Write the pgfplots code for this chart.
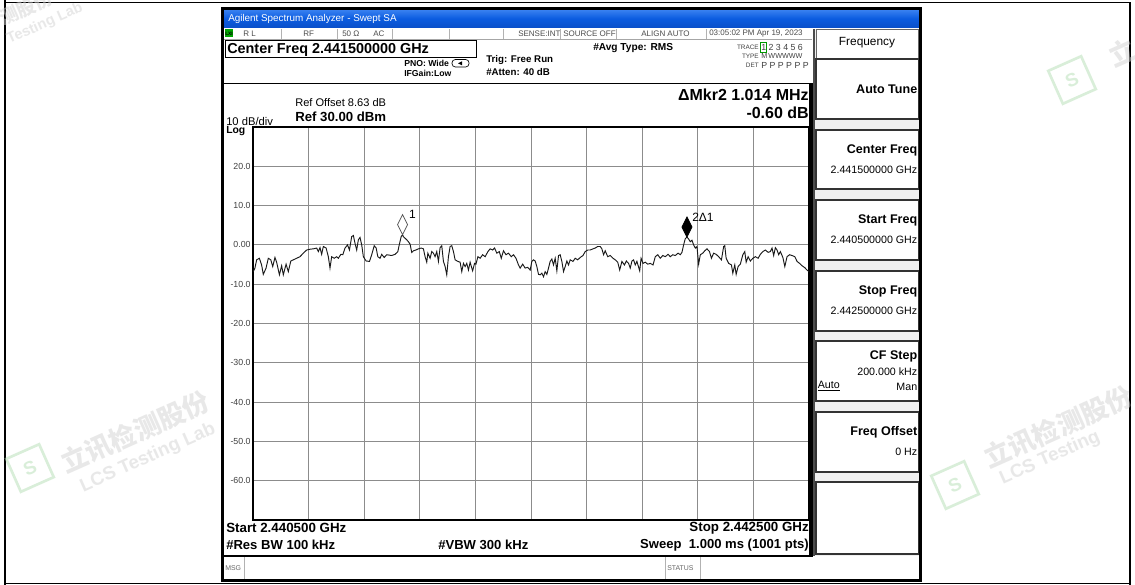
\documentclass[border=0pt]{standalone}
\usepackage{pgfplots}
\pgfplotsset{compat=1.18}
\usepackage{fontspec}
\setmainfont{Liberation Sans}
\newfontfamily\cjk{Noto Sans CJK SC}
\newcommand\fs[1]{\fontsize{#1}{#1}\selectfont}
\definecolor{gridc}{HTML}{8C8C8C}
\definecolor{tbtop}{HTML}{3D84F2}
\definecolor{tbmid}{HTML}{0B5CE0}
\definecolor{tbbot}{HTML}{0A4FC8}
\definecolor{wm}{HTML}{D2D2D2}
\definecolor{wmg}{HTML}{B4DEB4}
\pgfdeclareplotmark{mkrdiamond}{%
  \pgfpathmoveto{\pgfqpoint{0pt}{0pt}}%
  \pgfpathlineto{\pgfqpoint{3.75pt}{7.5pt}}%
  \pgfpathlineto{\pgfqpoint{0pt}{15pt}}%
  \pgfpathlineto{\pgfqpoint{-3.75pt}{7.5pt}}%
  \pgfpathclose
  \pgfusepathqfillstroke}
\begin{document}
\begin{tikzpicture}
\useasboundingbox (0,0) rectangle (851.25pt,-438.75pt);
\begin{scope}[x=0.75pt,y=-0.75pt]
% page frame
\fill[white] (0,0) rectangle (1135,585);
\draw[line width=1.1pt] (5,2.5) -- (1130,2.5);
\draw[line width=0.8pt] (5,0) -- (5,585);
\draw[line width=0.8pt] (1130,2.5) -- (1130,585);
\draw[line width=0.8pt] (5,583.5) -- (1130,583.5);
% window
\fill[white] (222,8) rectangle (921,581);
\shade[top color=tbtop, bottom color=tbbot, middle color=tbmid] (223,9) rectangle (920,28);
\node[anchor=west, text=white, font=\fs{7.4pt}, inner sep=0pt] at (228,18.5) {Agilent Spectrum Analyzer - Swept SA};
% status row
\draw[black!35, line width=0.5pt] (223,39) -- (812,39);
\fill[green!65!black] (225,29.5) rectangle (233,37.5);
\node[font=\fs{3.6pt}\bfseries, inner sep=0pt] at (229,33.5) {LXI};
\begin{scope}[font=\fs{6pt}, text=black!70, inner sep=0pt]
\node[anchor=west] at (243,33.5) {R L};
\node[anchor=west] at (303,33.5) {RF};
\node[anchor=west] at (342,33.5) {50 Ω};
\node[anchor=west] at (373,33.5) {AC};
\node[anchor=west] at (518,33.5) {SENSE:INT};
\node[anchor=west] at (563,33.5) {SOURCE OFF};
\node[anchor=west] at (641,33.5) {ALIGN AUTO};
\node[anchor=west] at (709,33.5) {03:05:02 PM Apr 19, 2023};
\end{scope}
\foreach \sx in {281,337,392,449,503,560,616,706}
  \draw[black!30, line width=0.6pt] (\sx,29) -- (\sx,39);
% header
\draw[line width=0.75pt] (225,41) rectangle (476,58);
\node[anchor=west, font=\fs{10.8pt}\bfseries, inner sep=0pt] at (227,49.5) {Center Freq 2.441500000 GHz};
\node[anchor=west, font=\fs{6.5pt}\bfseries, inner sep=0pt] at (404,63.5) {PNO: Wide};
\node[anchor=west, font=\fs{6.5pt}\bfseries, inner sep=0pt] at (404,73.5) {IFGain:Low};
\draw[line width=0.5pt, rounded corners=2.5pt] (452,59.5) rectangle (469,67);
\fill (458,63.3) -- (462,61.3) -- (462,65.3) -- cycle;
\node[anchor=west, font=\fs{7.3pt}\bfseries, inner sep=0pt] at (486,60.5) {Trig: Free Run};
\node[anchor=west, font=\fs{7.3pt}\bfseries, inner sep=0pt] at (486,72.5) {\#Atten: 40 dB};
\node[anchor=west, font=\fs{7.6pt}\bfseries, inner sep=0pt] at (593,48) {\#Avg Type: RMS};
\begin{scope}[inner sep=0pt, text=black!75]
\node[anchor=east, font=\fs{4.8pt}] at (759,47) {TRACE};
\node[anchor=east, font=\fs{4.8pt}] at (759,56.5) {TYPE};
\node[anchor=east, font=\fs{4.8pt}] at (759,65.5) {DET};
\node[anchor=west, font=\fs{6.6pt}] at (761,47.5) {1 2 3 4 5 6};
\node[anchor=west, font=\fs{5.4pt}] at (761,56.5) {M\,WWWWW};
\node[anchor=west, font=\fs{6.6pt}] at (761,65.5) {P P P P P P};
\end{scope}
\draw[green!60!black, line width=0.5pt] (760,42.5) rectangle (766.5,52);
% main display frame
\draw[line width=1.1pt] (222,83.5) -- (812,83.5);
\draw[line width=1.1pt] (222,556) -- (812,556);
\draw[line width=2.4pt] (811,83) -- (811,557);
\node[anchor=east, font=\fs{12pt}\bfseries, inner sep=0pt] at (809,95) {ΔMkr2 1.014 MHz};
\node[anchor=east, font=\fs{12pt}\bfseries, inner sep=0pt] at (809,113) {-0.60 dB};
\node[anchor=west, font=\fs{8.3pt}, inner sep=0pt] at (295,103) {Ref Offset 8.63 dB};
\node[anchor=west, font=\fs{9.9pt}\bfseries, inner sep=0pt] at (295,116.5) {Ref 30.00 dBm};
\node[anchor=west, font=\fs{8.4pt}, inner sep=0pt] at (226,121.5) {10 dB/div};
\node[anchor=west, font=\fs{7.8pt}\bfseries, inner sep=0pt] at (226,131) {Log};
\node[anchor=west, font=\fs{10pt}\bfseries, inner sep=0pt] at (226,528) {Start 2.440500 GHz};
\node[anchor=east, font=\fs{10pt}\bfseries, inner sep=0pt] at (809,528) {Stop 2.442500 GHz};
\node[anchor=west, font=\fs{9.8pt}\bfseries, inner sep=0pt] at (226,545) {\#Res BW 100 kHz};
\node[anchor=west, font=\fs{9.8pt}\bfseries, inner sep=0pt] at (438,545) {\#VBW 300 kHz};
\node[anchor=east, font=\fs{9.8pt}\bfseries, inner sep=0pt] at (809,545) {Sweep\ \ 1.000 ms (1001 pts)};
% msg bar
\draw[black!30, line width=0.6pt] (244,557) -- (244,579);
\draw[black!30, line width=0.6pt] (665,557) -- (665,579);
\draw[black!30, line width=0.6pt] (700,557) -- (700,579);
\node[anchor=west, font=\fs{5.2pt}, text=black!60, inner sep=0pt] at (225,568) {MSG};
\node[anchor=west, font=\fs{5.2pt}, text=black!60, inner sep=0pt] at (667,568) {STATUS};
% right panel
\fill[black!6] (814,29) rectangle (919.5,556);
\draw[black!70, line width=0.9pt] (814,29) -- (814,556);
\draw[black!60, line width=0.7pt, fill=white] (816,29.5) rectangle (918.5,58);
\foreach \ya/\yb in {59/119,130/189,200/260,271/331,341/401,412/472,482/554}
  \draw[black!80, line width=0.8pt, fill=white] (816,\ya) rectangle (918.5,\yb);
\node[font=\fs{8.9pt}, inner sep=0pt] at (867,43) {Frequency};
\begin{scope}[inner sep=0pt]
\node[anchor=east, font=\fs{9.4pt}\bfseries] at (917.5,89) {Auto Tune};
\node[anchor=east, font=\fs{9.4pt}\bfseries] at (917.5,150) {Center Freq};
\node[anchor=east, font=\fs{8pt}] at (917.5,169.5) {2.441500000 GHz};
\node[anchor=east, font=\fs{9.4pt}\bfseries] at (917.5,220) {Start Freq};
\node[anchor=east, font=\fs{8pt}] at (917.5,240) {2.440500000 GHz};
\node[anchor=east, font=\fs{9.4pt}\bfseries] at (917.5,291) {Stop Freq};
\node[anchor=east, font=\fs{8pt}] at (917.5,310.5) {2.442500000 GHz};
\node[anchor=east, font=\fs{9.4pt}\bfseries] at (917.5,356) {CF Step};
\node[anchor=east, font=\fs{8pt}] at (917.5,371.5) {200.000 kHz};
\node[anchor=west, font=\fs{8pt}] at (817.5,386.5) {\underline{Auto}};
\node[anchor=east, font=\fs{8pt}] at (917.5,386.5) {Man};
\node[anchor=east, font=\fs{9.4pt}\bfseries] at (917.5,432) {Freq Offset};
\node[anchor=east, font=\fs{8pt}] at (917.5,452) {0 Hz};
\end{scope}
% window border
\draw[line width=1.6pt] (222.5,8.5) rectangle (920.5,580.5);
\coordinate (plotNW) at (253,127);
\end{scope}
\begin{axis}[
  at={(plotNW)}, anchor=north west,
  scale only axis, width=417pt, height=294.75pt,
  xmin=2440.5, xmax=2442.5, ymin=-70, ymax=30,
  xtick={2440.7,2440.9,2441.1,2441.3,2441.5,2441.7,2441.9,2442.1,2442.3},
  xticklabels={},
  ytick={-60,-50,-40,-30,-20,-10,0,10,20},
  yticklabels={-60.0,-50.0,-40.0,-30.0,-20.0,-10.0,0.00,10.0,20.0},
  yticklabel style={font=\fs{6.6pt}, text=black!75, inner sep=1.6pt},
  major tick length=0pt,
  grid=major,
  major grid style={draw=gridc, line width=0.75pt},
  axis line style={line width=1.6pt, black},
  clip=false,
]
\addplot[black!90, line width=0.7pt, mark=none] coordinates {
(2440.501,-6.8) (2440.507,-5.9) (2440.513,-3.8) (2440.523,-3.4) (2440.531,-5.1)
(2440.537,-7.5) (2440.547,-5.9) (2440.555,-3.4) (2440.564,-3.8) (2440.571,-5.5)
(2440.579,-3.2) (2440.585,-4.4) (2440.595,-7.6) (2440.603,-5.3) (2440.609,-7.6)
(2440.619,-4.9) (2440.627,-6.8) (2440.636,-4.1) (2440.645,-3.8) (2440.657,-3.4)
(2440.669,-3.0) (2440.681,-2.1) (2440.693,-1.3) (2440.705,-1.1) (2440.717,-1.0)
(2440.729,-0.8) (2440.735,-1.7) (2440.741,-0.7) (2440.747,-2.4) (2440.753,-0.4)
(2440.763,-0.8) (2440.771,-3.0) (2440.777,-5.9) (2440.783,-3.0) (2440.792,-3.4)
(2440.801,-3.0) (2440.807,-3.4) (2440.816,-2.4) (2440.823,-2.5) (2440.831,-0.8)
(2440.840,0.0) (2440.847,-1.3) (2440.855,2.1) (2440.861,2.4) (2440.867,0.4)
(2440.873,-1.3) (2440.879,1.3) (2440.885,1.9) (2440.891,0.0) (2440.897,-3.0)
(2440.907,-4.1) (2440.919,-4.2) (2440.927,-2.5) (2440.936,-0.2) (2440.943,-0.8)
(2440.949,-3.0) (2440.957,-3.4) (2440.963,-2.4) (2440.972,-3.2) (2440.981,-2.5)
(2440.999,-2.7) (2441.011,-2.4) (2441.021,-1.7) (2441.026,0.0) (2441.033,2.1)
(2441.038,2.6) (2441.041,2.1) (2441.047,1.7) (2441.053,1.3) (2441.059,0.8)
(2441.065,0.2) (2441.071,-1.9) (2441.077,-1.5) (2441.086,-1.3) (2441.095,-1.0)
(2441.105,-0.8) (2441.113,-1.0) (2441.119,-3.0) (2441.125,-4.4) (2441.129,-2.1)
(2441.137,-3.4) (2441.143,-1.7) (2441.149,-2.1) (2441.155,-3.0) (2441.161,-1.7)
(2441.167,-4.2) (2441.173,-0.7) (2441.179,-0.2) (2441.185,-4.2) (2441.191,-5.5)
(2441.197,-7.6) (2441.203,-3.0) (2441.209,-0.4) (2441.215,-0.2) (2441.221,-1.7)
(2441.227,-3.8) (2441.237,-4.2) (2441.245,-4.4) (2441.251,-6.8) (2441.257,-4.7)
(2441.263,-5.5) (2441.269,-4.7) (2441.275,-6.4) (2441.281,-4.4) (2441.290,-6.6)
(2441.297,-4.7) (2441.302,-4.9) (2441.309,-3.0) (2441.317,-3.4) (2441.326,-2.5)
(2441.335,-3.0) (2441.345,-1.7) (2441.353,-1.0) (2441.362,-1.3) (2441.369,-0.8)
(2441.377,-2.1) (2441.386,-1.7) (2441.393,-3.4) (2441.401,-1.5) (2441.410,-2.5)
(2441.419,-2.1) (2441.429,-3.0) (2441.437,-2.5) (2441.446,-3.4) (2441.455,-5.1)
(2441.461,-5.9) (2441.470,-4.9) (2441.479,-5.9) (2441.488,-5.7) (2441.497,-6.4)
(2441.503,-4.2) (2441.509,-3.8) (2441.515,-4.1) (2441.521,-5.5) (2441.527,-7.5)
(2441.533,-7.6) (2441.539,-7.2) (2441.545,-8.1) (2441.551,-6.8) (2441.557,-7.5)
(2441.563,-5.9) (2441.569,-4.2) (2441.575,-3.6) (2441.581,-5.1) (2441.587,-3.4)
(2441.593,-6.6) (2441.599,-2.7) (2441.605,-2.5) (2441.611,-4.2) (2441.617,-6.8)
(2441.623,-5.5) (2441.629,-4.1) (2441.635,-5.1) (2441.641,-3.8) (2441.651,-4.2)
(2441.659,-3.4) (2441.668,-3.8) (2441.677,-3.2) (2441.687,-2.7) (2441.695,-1.7)
(2441.704,-1.3) (2441.713,-1.3) (2441.723,-1.0) (2441.731,-0.8) (2441.740,-0.4)
(2441.749,-0.4) (2441.755,-1.0) (2441.761,-2.5) (2441.767,-1.5) (2441.776,-3.0)
(2441.785,-2.7) (2441.795,-3.4) (2441.803,-3.8) (2441.812,-4.4) (2441.819,-6.4)
(2441.827,-4.2) (2441.836,-5.1) (2441.843,-4.1) (2441.851,-4.7) (2441.857,-5.9)
(2441.863,-4.1) (2441.869,-3.8) (2441.875,-5.1) (2441.881,-4.2) (2441.891,-6.6)
(2441.896,-3.4) (2441.903,-4.7) (2441.911,-4.4) (2441.920,-4.9) (2441.929,-4.7)
(2441.939,-5.1) (2441.947,-3.0) (2441.956,-2.5) (2441.965,-3.4) (2441.974,-2.7)
(2441.983,-3.0) (2441.993,-2.4) (2442.001,-3.0) (2442.010,-2.5) (2442.019,-2.7)
(2442.029,-2.1) (2442.037,-2.5) (2442.043,-1.9) (2442.049,0.0) (2442.055,1.6)
(2442.061,2.0) (2442.067,1.5) (2442.073,0.8) (2442.079,1.2) (2442.085,0.0)
(2442.091,-0.8) (2442.097,-0.4) (2442.103,-4.9) (2442.109,-2.5) (2442.118,-2.1)
(2442.125,-1.5) (2442.133,-1.0) (2442.142,-1.7) (2442.149,-3.4) (2442.157,-2.1)
(2442.166,-2.4) (2442.175,-3.0) (2442.185,-3.8) (2442.193,-0.4) (2442.197,-0.2)
(2442.202,-3.4) (2442.211,-4.7) (2442.221,-5.1) (2442.226,-7.2) (2442.233,-5.1)
(2442.238,-7.5) (2442.245,-5.5) (2442.253,-4.9) (2442.262,-2.5) (2442.269,-1.7)
(2442.274,-4.4) (2442.281,-3.0) (2442.289,-4.1) (2442.298,-3.4) (2442.307,-3.0)
(2442.317,-3.4) (2442.325,-2.4) (2442.334,-1.7) (2442.343,-1.3) (2442.353,-1.9)
(2442.361,-1.7) (2442.367,-0.8) (2442.373,-2.7) (2442.379,-0.7) (2442.385,-1.3)
(2442.391,-2.5) (2442.397,-1.7) (2442.406,-3.2) (2442.413,-5.5) (2442.421,-3.0)
(2442.430,-2.5) (2442.439,-2.7) (2442.449,-3.0) (2442.457,-4.2) (2442.466,-4.7)
(2442.475,-5.3) (2442.485,-5.8) (2442.493,-6.4) (2442.500,-6.8)
};
\addplot[only marks, mark=mkrdiamond, mark options={fill=white, draw=black!65, line width=0.6pt}] coordinates {(2441.038,2.6)};
\addplot[only marks, mark=mkrdiamond, mark options={fill=black, draw=black, line width=0.6pt}] coordinates {(2442.061,2.0)};
\node[anchor=west, font=\fs{9pt}, inner sep=0pt] at (axis cs:2441.038,2.6) [xshift=4.8pt, yshift=15pt] {1};
\node[anchor=west, font=\fs{9pt}, inner sep=0pt] at (axis cs:2442.061,2.0) [xshift=3.8pt, yshift=15pt] {2Δ1};
\end{axis}
% watermarks
\begin{scope}[x=0.75pt,y=-0.75pt]
\clip (0,0) rectangle (1135,585);
\begin{scope}[opacity=0.5]
\node[rotate=24, text=wm, font=\cjk\fs{20pt}\bfseries] at (135,432) {立讯检测股份};
\node[rotate=24, text=wm, font=\fs{14pt}\bfseries] at (148,458) {LCS Testing Lab};
\draw[wmg, line width=2pt, rotate around={24:(30,468)}] (12,450) rectangle (48,486);
\node[rotate=24, text=wmg, font=\fs{14pt}\bfseries] at (30,468) {S};
\node[rotate=24, text=wm, font=\cjk\fs{20pt}\bfseries] at (1058,427) {立讯检测股份};
\node[rotate=24, text=wm, font=\fs{14pt}\bfseries] at (1050,458) {LCS Testing};
\draw[wmg, line width=2pt, rotate around={24:(955,485)}] (937,467) rectangle (973,503);
\node[rotate=24, text=wmg, font=\fs{14pt}\bfseries] at (955,485) {S};
\draw[wmg, line width=2pt, rotate around={24:(1072,80)}] (1054,62) rectangle (1090,98);
\node[rotate=24, text=wmg, font=\fs{14pt}\bfseries] at (1072,80) {S};
\node[rotate=24, text=wm, font=\cjk\fs{20pt}\bfseries] at (1122,52) {立};
\node[rotate=24, text=wm, font=\cjk\fs{14pt}\bfseries] at (26,8) {测股份};
\node[rotate=24, text=wm, font=\fs{11pt}\bfseries] at (45,24) {Testing Lab};
\end{scope}
\end{scope}
\end{tikzpicture}
\end{document}
